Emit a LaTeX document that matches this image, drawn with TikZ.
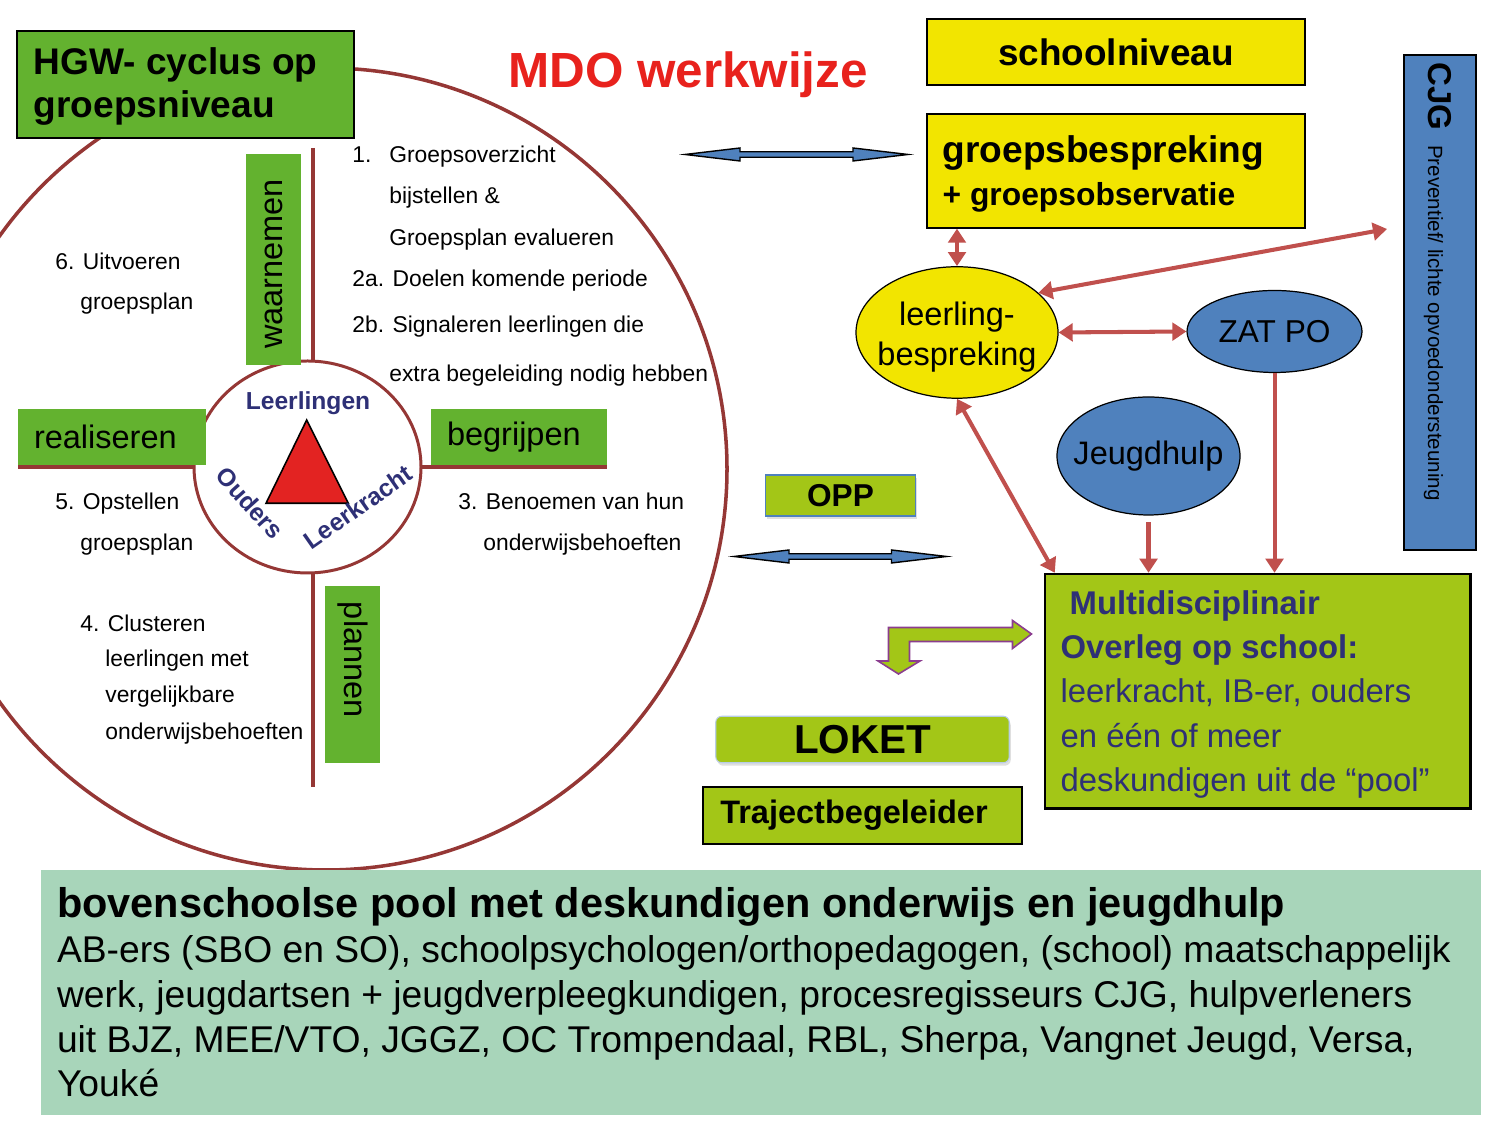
\documentclass[tikz,border=0pt]{standalone}
\usepackage{fontspec}
\setmainfont{Liberation Sans}
\usetikzlibrary{calc,shapes.geometric,arrows.meta,shadows}

\definecolor{hgwgroen}{HTML}{63B22F}
\definecolor{limoen}{HTML}{A3C617}
\definecolor{geel}{HTML}{F2E500}
\definecolor{blauw}{HTML}{4F81BD}
\definecolor{pijlrood}{HTML}{C0504D}
\definecolor{cirkelrood}{HTML}{953735}
\definecolor{donkerblauw}{HTML}{2E3076}
\definecolor{poolgroen}{HTML}{A8D5BA}
\definecolor{titelrood}{HTML}{E8221D}
\definecolor{driehoekrood}{HTML}{E32322}
\definecolor{paars}{HTML}{8B3D8F}

\def\fs#1#2{\fontsize{#1}{#2}\selectfont}
\def\dblarrow(#1)(#2){\draw[blokpijl] (#1) -- ($(#1)+(1.1,0.13)$) -- ($(#1)+(1.1,0.055)$) -- ($(#2)+(-1.1,0.055)$) -- ($(#2)+(-1.1,0.13)$) -- (#2) -- ($(#2)+(-1.1,-0.13)$) -- ($(#2)+(-1.1,-0.055)$) -- ($(#1)+(1.1,-0.055)$) -- ($(#1)+(1.1,-0.13)$) -- cycle;}

\tikzset{
	rondlijn/.style={draw=cirkelrood, line width=2pt},
	aslijn/.style={draw=cirkelrood, line width=2.3pt},
	fase/.style={fill=hgwgroen, inner ysep=0pt, inner xsep=0.32cm, align=left, font=\fs{18.5}{22}},
	stap/.style={anchor=base west, inner sep=0pt, font=\fs{13}{15}},
	hoek/.style={inner sep=0pt, font=\fs{14}{16}\bfseries, text=donkerblauw},
	geelvak/.style={draw=black, line width=0.8pt, fill=geel, inner sep=0pt},
	limoenvak/.style={draw=black, line width=1.2pt, fill=limoen, inner sep=0pt},
	ovaal/.style={ellipse, draw=black, line width=0.7pt, inner sep=0pt},
	rodepijl/.style={draw=pijlrood, line width=2.3pt, >={Triangle[length=8pt,width=10pt]}},
	blokpijl/.style={draw=black, line width=0.8pt, fill=blauw, line join=miter},
	knikpijl/.style={draw=paars, line width=0.9pt, fill=limoen, line join=miter},
	schaduw/.style={drop shadow={opacity=0.25, shadow xshift=0.03cm, shadow yshift=-0.06cm}}
}

\begin{document}
\begin{tikzpicture}
		%%%%% START %%%%%
		\useasboundingbox (0, 0) rectangle (30, 22.5);
		\clip (0, 0) rectangle (30, 22.5);
		
		% cyclus
		\draw[rondlijn] (6.52, 13.12) circle (8.02);
		\draw[aslijn] (6.26, 19.54) -- (6.26, 15.2);
		\draw[aslijn] (6.26, 11.1) -- (6.26, 6.76);
		\draw[aslijn] (0.36, 13.16) -- (3.95, 13.16);
		\draw[aslijn] (8.35, 13.16) -- (12.14, 13.16);
		\node[ellipse, rondlijn, line width=1.7pt, fill=white, minimum width=4.54cm, minimum height=4.24cm] (kern) at (6.15, 13.16) {};
		
		\draw[fill=driehoekrood, draw=black, line width=0.9pt] (6.134, 14.10) -- (5.32, 12.434) -- (6.966, 12.434) -- cycle;
		\node[hoek] (lln) at (6.16, 14.44) {Leerlingen};
		\node[hoek, rotate=-48] (oud) at (5.00, 12.44) {Ouders};
		\node[hoek, rotate=35] (lkr) at (7.16, 12.36) {Leerkracht};
		
		\node[fase, rotate=90, text width=3.58cm, minimum height=1.10cm] (waarn) at (5.47, 17.31) {waarnemen};
		\node[fase, rotate=-90, text width=2.90cm, minimum height=1.10cm] (plan) at (7.05, 9.01) {plannen};
		\node[fase, text width=3.12cm, minimum height=1.12cm] (real) at (2.24, 13.76) {realiseren};
		\node[fase, text width=2.88cm, minimum height=1.12cm] (begr) at (10.38, 13.76) {begrijpen};
		
		\node[stap] (s1a) at (7.04, 19.24) {1.};
		\node[stap] (s1b) at (7.78, 19.24) {Groepsoverzicht};
		\node[stap] (s1c) at (7.78, 18.42) {bijstellen \&};
		\node[stap] (s1d) at (7.78, 17.58) {Groepsplan evalueren};
		\node[stap] (s2a) at (7.04, 16.76) {2a. Doelen komende periode};
		\node[stap] (s2b) at (7.04, 15.84) {2b. Signaleren leerlingen die};
		\node[stap] (s2c) at (7.78, 14.86) {extra begeleiding nodig hebben};
		\node[stap] (s3a) at (9.16, 12.30) {3. Benoemen van hun};
		\node[stap] (s3b) at (9.66, 11.48) {onderwijsbehoeften};
		\node[stap] (s4a) at (1.60, 9.86) {4. Clusteren};
		\node[stap] (s4b) at (2.10, 9.16) {leerlingen met};
		\node[stap] (s4c) at (2.10, 8.44) {vergelijkbare};
		\node[stap] (s4d) at (2.10, 7.70) {onderwijsbehoeften};
		\node[stap] (s5a) at (1.10, 12.30) {5. Opstellen};
		\node[stap] (s5b) at (1.60, 11.48) {groepsplan};
		\node[stap] (s6a) at (1.10, 17.10) {6. Uitvoeren};
		\node[stap] (s6b) at (1.60, 16.30) {groepsplan};
		
		\node[draw=black, line width=1pt, fill=hgwgroen, minimum width=6.74cm, minimum height=2.14cm, inner sep=0pt] (hgw) at (3.716, 20.816) {};
		\node[anchor=west, align=left, inner sep=0pt, font=\fs{21.1}{24.5}\bfseries] (hgwtxt) at ([xshift=0.34cm, yshift=-0.05cm]hgw.west) {HGW- cyclus op\\groepsniveau};
		
		\node[anchor=base, inner sep=0pt, text=titelrood, font=\fs{28.1}{34}\bfseries] (titel) at (13.76, 20.74) {MDO werkwijze};
		
		% schoolkant
		\node[geelvak, minimum width=7.56cm, minimum height=1.32cm, font=\fs{21}{24}\bfseries] (school) at (22.32, 21.46) {schoolniveau};
		\node[geelvak, minimum width=7.56cm, minimum height=2.28cm] (groeps) at (22.32, 19.08) {};
		\node[anchor=west, align=left, inner sep=0pt, font=\fs{21.1}{24.2}\bfseries] (groepstxt) at ([xshift=0.32cm, yshift=-0.06cm]groeps.west) {groepsbespreking\\{\fs{18.1}{24.2}+ groepsobservatie}};
		
		\node[draw=black, line width=1.2pt, fill=blauw, minimum width=1.44cm, minimum height=9.90cm, inner sep=0pt] (cjg) at (28.80, 16.45) {};
		\node[rotate=-90, anchor=base west, inner sep=0pt] (cjgtxt) at (28.56, 21.26) {{\fs{18.8}{22}\bfseries CJG}\hspace{0.3cm}{\fs{11.7}{14}Preventief/ lichte opvoedondersteuning}};
		\coordinate (cjgpunt) at (27.74, 17.92);
		
		\node[ovaal, fill=geel, minimum width=4.04cm, minimum height=2.63cm] (leer) at (19.14, 15.85) {};
		\node[align=center, inner sep=0pt, font=\fs{18.5}{22.7}] (leertxt) at ([yshift=-0.1cm]leer.center) {leerling-\\bespreking};
		\node[ovaal, fill=blauw, minimum width=3.50cm, minimum height=1.64cm] (zat) at (25.49, 15.87) {};
		\node[inner sep=0pt, font=\fs{18}{21}] (zattxt) at (zat) {ZAT PO};
		\node[ovaal, fill=blauw, minimum width=3.66cm, minimum height=2.36cm] (jeugd) at (22.97, 13.38) {};
		\node[inner sep=0pt, font=\fs{18.5}{21}] (jeugdtxt) at (jeugd) {Jeugdhulp};
		
		\node[limoenvak, line width=1.4pt, minimum width=8.51cm, minimum height=4.69cm] (mdo) at (25.155, 8.675) {};
		\node[anchor=west, align=left, inner sep=0pt, text=donkerblauw, font=\fs{18.7}{25.2}] (mdotxt) at ([xshift=0.33cm, yshift=-0.06cm]mdo.west) {\hspace*{0.18cm}\textbf{Multidisciplinair}\\\textbf{Overleg op school:}\\leerkracht, IB-er, ouders\\en één of meer\\deskundigen uit de “pool”};
		
		\draw[rodepijl, <->] (leer.north) -- (leer.north |- groeps.south);
		\draw[rodepijl, <->] (leer.26) -- (cjgpunt);
		\draw[rodepijl, <->] (leer.east) -- (zat.west);
		\draw[rodepijl, <->] (leer.south) -- ([xshift=0.22cm]mdo.north west);
		\draw[rodepijl, ->, shorten <=0.13cm] (jeugd.south) -- (jeugd.south |- mdo.north);
		\draw[rodepijl, ->] (zat.south) -- (zat.south |- mdo.north);
		
		% midden
		\coordinate (pl1) at (13.70, 19.41);
		\coordinate (pr1) at (18.16, 19.41);
		\dblarrow(pl1)(pr1)
		\coordinate (pl2) at (14.68, 11.37);
		\coordinate (pr2) at (18.93, 11.37);
		\dblarrow(pl2)(pr2)
		
		\node[fill=limoen, draw=blauw, line width=0.6pt, schaduw, minimum width=3.01cm, minimum height=0.82cm, inner sep=0pt, font=\fs{18}{21}\bfseries] (opp) at (16.81, 12.59) {OPP};
		
		\draw[knikpijl] (17.77, 9.95) -- (20.25, 9.95) -- (20.25, 10.09) -- (20.63, 9.82) -- (20.25, 9.53) -- (20.25, 9.67) -- (18.19, 9.67) -- (18.19, 9.28) -- (18.40, 9.28) -- (17.97, 9.02) -- (17.56, 9.28) -- (17.77, 9.28) -- cycle;
		
		\node[fill=limoen, draw=blauw!40, line width=0.6pt, rounded corners=0.12cm, schaduw, minimum width=5.87cm, minimum height=0.93cm, inner sep=0pt, font=\fs{23}{27}\bfseries] (loket) at (17.25, 7.71) {LOKET};
		\node[limoenvak, line width=1pt, inner xsep=0.35cm, text width=5.69cm, align=left, minimum height=1.15cm, font=\fs{18.5}{21}\bfseries] (traject) at (17.25, 6.19) {Trajectbegeleider};
		
		% pool
		\node[fill=poolgroen, minimum width=28.8cm, minimum height=4.9cm, inner sep=0pt] (pool) at (15.22, 2.65) {};
		\node[anchor=west, align=left, inner sep=0pt, font=\fs{21.2}{25.5}] (pooltxt) at ([xshift=0.32cm]pool.west) {{\fs{23.6}{25.5}\bfseries bovenschoolse pool met deskundigen onderwijs en jeugdhulp}\\AB-ers (SBO en SO), schoolpsychologen/orthopedagogen, (school) maatschappelijk\\werk, jeugdartsen + jeugdverpleegkundigen, procesregisseurs CJG, hulpverleners\\uit BJZ, MEE/VTO, JGGZ, OC Trompendaal, RBL, Sherpa, Vangnet Jeugd, Versa,\\Youké};
		
		%%%%% END %%%%%
\end{tikzpicture}
\end{document}
